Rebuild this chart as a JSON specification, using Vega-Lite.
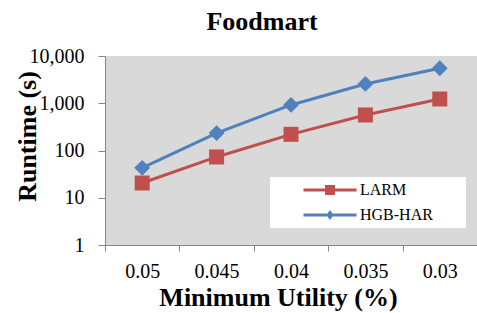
{
  "$schema": "https://vega.github.io/schema/vega-lite/v6.json",
  "width": 372,
  "height": 189,
  "autosize": {"type": "none"},
  "padding": {"left": 105, "top": 56, "right": 0, "bottom": 68},
  "background": "white",
  "title": {"text": "Foodmart", "font": "Liberation Serif", "fontSize": 26, "fontWeight": "bold", "color": "black", "anchor": "middle", "frame": "group", "offset": 11, "dx": -29},
  "config": {"view": {"fill": "#d9d9d9", "stroke": null}, "font": "Liberation Serif"},
  "data": {"values": [
    {"minutil": "0.05", "algo": "LARM", "runtime": 20.5},
    {"minutil": "0.045", "algo": "LARM", "runtime": 73},
    {"minutil": "0.04", "algo": "LARM", "runtime": 220},
    {"minutil": "0.035", "algo": "LARM", "runtime": 565},
    {"minutil": "0.03", "algo": "LARM", "runtime": 1230},
    {"minutil": "0.05", "algo": "HGB-HAR", "runtime": 43},
    {"minutil": "0.045", "algo": "HGB-HAR", "runtime": 234},
    {"minutil": "0.04", "algo": "HGB-HAR", "runtime": 920},
    {"minutil": "0.035", "algo": "HGB-HAR", "runtime": 2560},
    {"minutil": "0.03", "algo": "HGB-HAR", "runtime": 5500}
  ]},
  "encoding": {
    "x": {"field": "minutil", "type": "nominal", "sort": null,
      "scale": {"type": "band", "paddingInner": 0, "paddingOuter": 0},
      "axis": {"title": "Minimum Utility (%)", "labelAngle": 0, "tickBand": "extent", "grid": false,
        "domainColor": "#868686", "tickColor": "#868686", "tickSize": 6,
        "labelFont": "Liberation Serif", "labelFontSize": 20, "labelColor": "black", "labelPadding": 10,
        "titleFont": "Liberation Serif", "titleFontSize": 26, "titleFontWeight": "bold", "titleColor": "black",
        "titleX": 173, "titleY": 60, "titleBaseline": "alphabetic", "titleAlign": "center"}},
    "y": {"field": "runtime", "type": "quantitative",
      "scale": {"type": "log", "domain": [1, 10000], "nice": false},
      "axis": {"title": "Runtime (s)", "values": [1, 10, 100, 1000, 10000], "format": ",", "grid": false,
        "domainColor": "#868686", "tickColor": "#868686", "tickSize": 7,
        "labelFont": "Liberation Serif", "labelFontSize": 20, "labelColor": "black", "labelPadding": 14,
        "titleFont": "Liberation Serif", "titleFontSize": 26, "titleFontWeight": "bold", "titleColor": "black",
        "titleX": -70, "titleY": 80, "titleAngle": -90, "titleBaseline": "alphabetic", "titleAlign": "center"}},
    "color": {"field": "algo", "type": "nominal", "scale": {"domain": ["LARM", "HGB-HAR"], "range": ["#c0504d", "#4f81bd"]},
      "legend": {"orient": "none", "legendX": 165, "legendY": 121, "title": null, "fillColor": "white", "padding": 5,
        "symbolType": "square", "symbolSize": 121, "symbolStrokeWidth": 0, "symbolOffset": 47, "labelOffset": 22, "rowPadding": 9,
        "labelFont": "Liberation Serif", "labelFontSize": 16, "labelColor": "black",
        "encode": {"symbols": {"update": {
          "shape": {"signal": "datum.value === 'LARM' ? 'M-4.82,-0.27H4.82V0.27H-4.82Z M-0.9,-0.9H0.9V0.9H-0.9Z M23.7,0' : 'M-4.82,-0.27H4.82V0.27H-4.82Z M0,-0.9L0.64,0L0,0.9L-0.64,0Z M23.7,0'"},
          "fill": {"signal": "scale('color', datum.value)"},
          "stroke": {"value": "transparent"},
          "opacity": {"value": 1}
        }}}}}
  },
  "layer": [
    {
      "mark": {"type": "line", "strokeWidth": 3}
    },
    {
      "transform": [{"filter": "datum.algo === 'LARM'"}],
      "mark": {"type": "point", "filled": true, "opacity": 1, "shape": "square", "size": 225}
    },
    {
      "transform": [{"filter": "datum.algo === 'HGB-HAR'"}],
      "mark": {"type": "point", "filled": true, "opacity": 1, "shape": "diamond", "size": 250}
    }
  ]
}
